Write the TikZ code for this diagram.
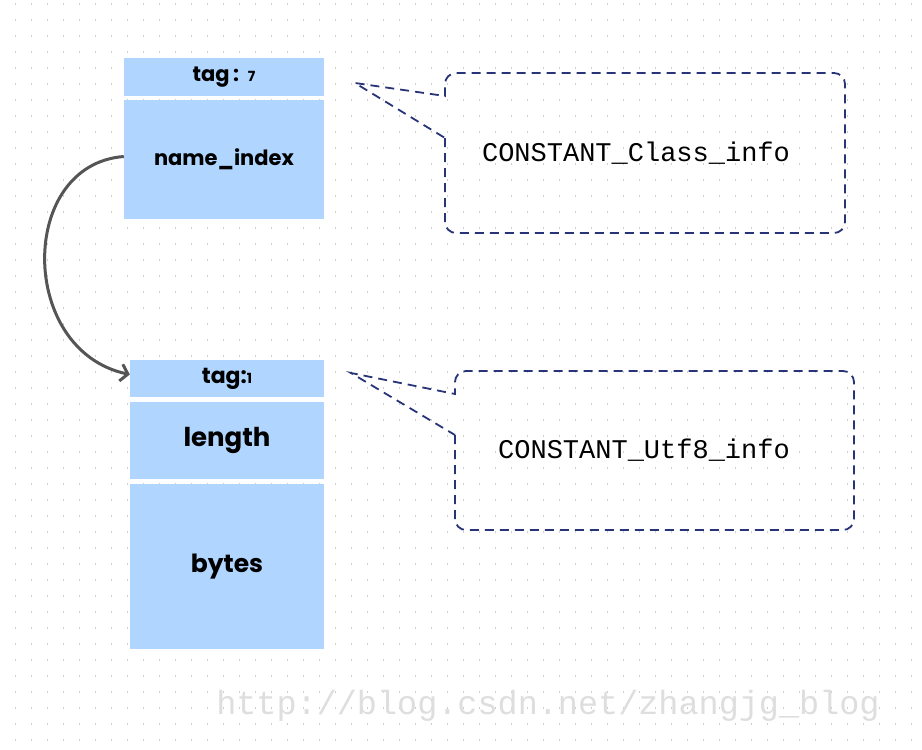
\documentclass[tikz,border=0pt]{standalone}
\usepackage{fontspec}
\usetikzlibrary{arrows.meta}
\newfontfamily\blkfont{Poppins}
\newfontfamily\monofont{Liberation Mono}
\definecolor{cellblue}{RGB}{176,214,255}
\definecolor{navy}{RGB}{40,52,120}
\definecolor{griddot}{RGB}{205,205,205}
\definecolor{arrowgray}{RGB}{85,85,85}
\definecolor{wmark}{RGB}{222,222,222}
\tikzset{
  cell/.style={fill=cellblue, draw=none, inner sep=0pt, font=\blkfont\bfseries},
  calloutline/.style={draw=navy, line width=1.8pt, dash pattern=on 9pt off 6pt},
  monotext/.style={font=\monofont\fontsize{27}{27}\selectfont, inner sep=0pt},
  linkarrow/.style={draw=arrowgray, line width=3pt, -{Straight Barb[length=7pt,width=17pt,line width=3pt]}},
}
\begin{document}
\begin{tikzpicture}[x=1pt,y=-1pt]
\useasboundingbox (0,0) rectangle (922,750);
\fill[white] (0,0) rectangle (922,750);
% dotted grid
\foreach \yy in {4,20,...,748}{
  \draw[griddot, line width=2pt, dash pattern=on 1pt off 15pt] (15,\yy) -- (922,\yy);
}
% top block
\node[cell, minimum width=200pt, minimum height=38pt] (tagA) at (224,77)
  {\fontsize{21}{21}\selectfont tag\,:\ \ {\fontsize{14}{14}\selectfont 7}};
\node[cell, minimum width=200pt, minimum height=119pt] (nameidx) at (224,159.5)
  {\fontsize{21}{21}\selectfont name\_index};
% bottom block
\node[cell, minimum width=194pt, minimum height=37pt] (tagB) at (227,378.5)
  {\fontsize{22}{22}\selectfont tag:{\fontsize{14}{14}\selectfont 1}};
\node[cell, minimum width=194pt, minimum height=77pt] (len) at (227,440.5)
  {\fontsize{26}{26}\selectfont length};
\node[cell, minimum width=194pt, minimum height=165pt] (bytes) at (227,566.5)
  {\fontsize{25}{25}\selectfont bytes};
% callout 1
\draw[calloutline] (445,138) {[rounded corners=11pt] -- (445,233) -- (845,233) -- (845,73) -- (445,73)} -- (445,96) -- (355,83) -- cycle;
\node[monotext] (cls) at (636,153) {CONSTANT\_Class\_info};
% callout 2
\draw[calloutline] (455,435) {[rounded corners=11pt] -- (455,530) -- (854,530) -- (854,371) -- (455,371)} -- (455,394) -- (351,373) -- cycle;
\node[monotext] (utf) at (644,450) {CONSTANT\_Utf8\_info};
% link arrow
\draw[linkarrow] ([yshift=3pt]nameidx.west) .. controls +(-106,8) and +(-112,-24) .. ([yshift=4pt]tagB.west);
% watermark
\node[font=\monofont\fontsize{33.5}{33.5}\selectfont, text=wmark, inner sep=0pt] (wm) at (548,706) {http://blog.csdn.net/zhangjg\_blog};
\end{tikzpicture}
\end{document}
